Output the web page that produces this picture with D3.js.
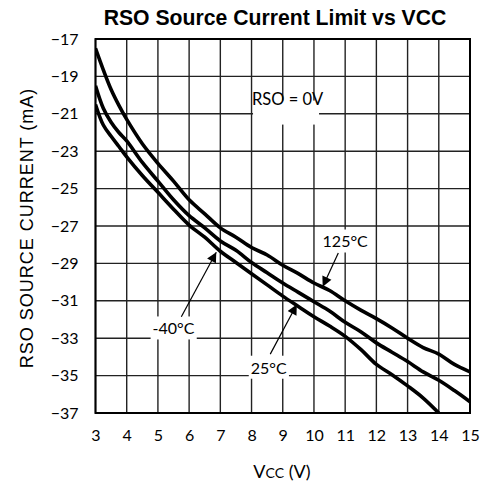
<!DOCTYPE html>
<html>
<head>
<meta charset="utf-8">
<script src="https://cdn.jsdelivr.net/npm/d3@7"></script>
<style>
  body { margin: 0; background: white; }
</style>
</head>
<body>
<script>
// VCC (V) sample points
let vcc = [3, 3.25, 3.5, 3.75, 4, 4.5, 5, 5.5, 6, 6.5, 7, 7.5, 8, 8.5, 9, 9.5, 10, 10.5, 11, 11.5, 12, 12.5, 13, 13.5, 14, 14.5, 15];

// RSO source current (mA) per temperature
let cur125 = [-17.5, -18.65, -19.7, -20.55, -21.3, -22.6, -23.65, -24.6, -25.6, -26.35, -27.1, -27.6, -28.15, -28.55, -29.1, -29.55, -30.05, -30.45, -31.0, -31.5, -31.95, -32.45, -33.0, -33.5, -33.85, -34.4, -34.8];
let cur25 = [-19.5, -20.7, -21.45, -22.0, -22.45, -23.6, -24.6, -25.6, -26.45, -27.1, -27.8, -28.3, -28.95, -29.5, -30.05, -30.55, -31.05, -31.55, -32.15, -32.65, -33.25, -33.75, -34.25, -34.8, -35.25, -35.8, -36.4];
let curM40 = [-20.5, -21.6, -22.2, -22.75, -23.3, -24.3, -25.2, -26.1, -26.95, -27.6, -28.35, -28.95, -29.55, -30.15, -30.75, -31.3, -31.85, -32.35, -32.9, -33.6, -34.4, -34.95, -35.55, -36.2, -37.0, null, null];

let xTicks = [3, 4, 5, 6, 7, 8, 9, 10, 11, 12, 13, 14, 15];
let yTicks = [-17, -19, -21, -23, -25, -27, -29, -31, -33, -35, -37];

// labels: text, text position, arrow tail, arrow tip (data units)
let labels = [
    { text: "125°C", x: 11, y: -27.85, from: [10.78, -28.45], to: [10.28, -30.25] },
    { text: "-40°C", x: 5.5, y: -32.5, from: [5.75, -31.85], to: [6.87, -28.4] },
    { text: "25°C", x: 8.55, y: -34.6, from: [8.6, -33.85], to: [9.45, -31.2] }
];

let width = 481;
let height = 485;
let marginTop = 39;
let marginRight = 11;
let marginBottom = 72;
let marginLeft = 95.5;

let x = d3.scaleLinear()
    .domain([3, 15])
    .range([marginLeft, width - marginRight]);

let y = d3.scaleLinear()
    .domain([-37, -17])
    .range([height - marginBottom, marginTop]);

let svg = d3.select("body").append("svg")
    .attr("width", width)
    .attr("height", height)
    .attr("viewBox", [0, 0, width, height]);

svg.append("defs").append("marker")
    .attr("id", "head")
    .attr("viewBox", "0 0 10 10")
    .attr("refX", 10)
    .attr("refY", 5)
    .attr("markerUnits", "userSpaceOnUse")
    .attr("markerWidth", 14)
    .attr("markerHeight", 10)
    .attr("orient", "auto")
    .append("path")
    .attr("d", "M0,0L10,5L0,10Z")
    .attr("fill", "black");

// title
svg.append("text")
    .attr("x", 275)
    .attr("y", 25)
    .attr("text-anchor", "middle")
    .style("font-family", "Liberation Sans, Arial, sans-serif")
    .style("font-weight", "bold")
    .style("font-size", "21.2px")
    .text("RSO Source Current Limit vs VCC");

// grid
svg.append("g")
    .attr("stroke", "#222")
    .attr("stroke-width", 1.4)
    .call(g => g.selectAll(".vx")
        .data(xTicks)
        .join("line")
        .attr("x1", d => x(d)).attr("x2", d => x(d))
        .attr("y1", y(-17)).attr("y2", y(-37)))
    .call(g => g.selectAll(".hy")
        .data(yTicks)
        .join("line")
        .attr("class", "hy")
        .attr("x1", x(3)).attr("x2", x(15))
        .attr("y1", d => y(d)).attr("y2", d => y(d)));

// tick labels
svg.append("g")
    .attr("transform", `translate(0,${height - marginBottom})`)
    .call(d3.axisBottom(x).tickValues(xTicks).tickSize(0).tickPadding(17))
    .call(g => g.select(".domain").remove())
    .call(g => g.selectAll("text")
        .attr("fill", "black")
        .style("font-family", "Lato, sans-serif")
        .style("font-size", "16px"));

svg.append("g")
    .attr("transform", `translate(${marginLeft},0)`)
    .call(d3.axisLeft(y).tickValues(yTicks).tickSize(0).tickPadding(17))
    .call(g => g.select(".domain").remove())
    .call(g => g.selectAll("text")
        .attr("fill", "black")
        .style("font-family", "Lato, sans-serif")
        .style("font-size", "16px"));

// axis titles
let xt = svg.append("text")
    .attr("x", 282)
    .attr("y", 478)
    .attr("text-anchor", "middle")
    .style("font-family", "Lato, sans-serif")
    .style("font-size", "18px");
xt.append("tspan").text("V");
xt.append("tspan").style("font-size", "14px").text("CC");
xt.append("tspan").text(" (V)");

svg.append("text")
    .attr("transform", `translate(33,${(marginTop + height - marginBottom) / 2 + 2}) rotate(-90)`)
    .attr("text-anchor", "middle")
    .style("font-family", "Liberation Sans, Arial, sans-serif")
    .style("font-size", "18px")
    .style("letter-spacing", "1px")
    .text("RSO SOURCE CURRENT (mA)");

// curves
svg.append("clipPath").attr("id", "plot")
    .append("rect")
    .attr("x", x(3)).attr("y", y(-17))
    .attr("width", x(15) - x(3)).attr("height", y(-37) - y(-17));

let line = d3.line()
    .defined(d => d[1] != null)
    .x(d => x(d[0]))
    .y(d => y(d[1]))
    .curve(d3.curveCatmullRom);

[cur125, cur25, curM40].forEach(series => {
    svg.append("path")
        .datum(vcc.map((v, i) => [v, series[i]]))
        .attr("clip-path", "url(#plot)")
        .attr("fill", "none")
        .attr("stroke", "black")
        .attr("stroke-width", 3.6)
        .attr("stroke-linejoin", "round")
        .attr("d", line);
});

// plot frame
svg.append("rect")
    .attr("x", x(3)).attr("y", y(-17))
    .attr("width", x(15) - x(3)).attr("height", y(-37) - y(-17))
    .attr("fill", "none")
    .attr("stroke", "black")
    .attr("stroke-width", 2);

// RSO = 0V note
let note = svg.append("g");
note.append("rect")
    .attr("x", x(8) + 1.5).attr("y", y(-20.4) - 2)
    .attr("width", 66).attr("height", 24)
    .attr("fill", "white");
note.append("text")
    .attr("x", x(8) + 0.5)
    .attr("y", y(-21) - 9)
    .style("font-family", "Lato, sans-serif")
    .style("font-size", "16.5px")
    .text("RSO = 0V");

// temperature labels with arrows
labels.forEach(d => {
    let t = svg.append("text")
        .attr("x", x(d.x))
        .attr("y", y(d.y))
        .attr("dy", "0.35em")
        .attr("text-anchor", "middle")
        .style("font-family", "Lato, sans-serif")
        .style("font-size", "16px")
        .text(d.text);
    let bb = t.node().getBBox();
    svg.insert("rect", () => t.node())
        .attr("x", bb.x - 2).attr("y", bb.y - 2)
        .attr("width", bb.width + 4).attr("height", bb.height + 4)
        .attr("fill", "white");
    svg.append("line")
        .attr("x1", x(d.from[0])).attr("y1", y(d.from[1]))
        .attr("x2", x(d.to[0])).attr("y2", y(d.to[1]))
        .attr("stroke", "black")
        .attr("stroke-width", 1.2)
        .attr("marker-end", "url(#head)");
});
</script>
</body>
</html>
